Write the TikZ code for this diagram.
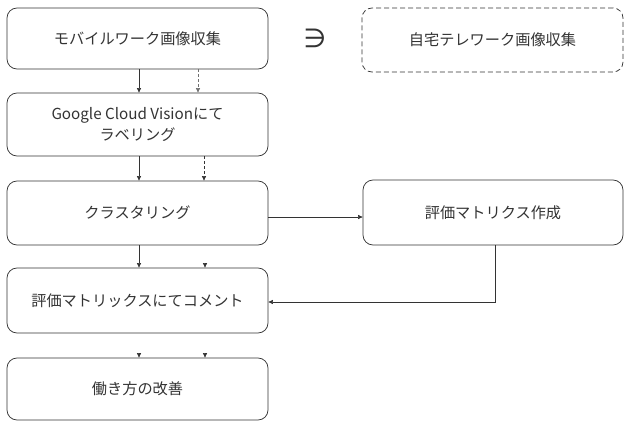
\documentclass[tikz,border=0pt]{standalone}
\usepackage{fontspec}
\setmainfont{Noto Sans CJK JP}
\newfontfamily\symfont{DejaVu Sans}
\usetikzlibrary{arrows.meta,calc}
\definecolor{ink}{HTML}{333333}
\tikzset{
  box/.style={draw=ink, line width=0.75pt, rounded corners=10pt, minimum width=261pt, text=ink, font=\fontsize{15.2}{21}\selectfont, align=center, inner sep=0pt},
  dbox/.style={box, dash pattern=on 5pt off 3pt},
  arr/.style={draw=ink, line width=0.6pt, -{Triangle[length=4.5pt,width=4pt]}},
  darr/.style={arr, dash pattern=on 3pt off 2pt},
}
\begin{document}
\begin{tikzpicture}[x=1pt,y=-1pt]
\useasboundingbox (0,0) rectangle (624,421);
\node[box, minimum height=61pt] (b1) at (137.5,38.5) {モバイルワーク画像収集};
\node[box, minimum height=63pt] (b2) at (137.5,124.5) {Google Cloud Visionにて\\ラベリング};
\node[box, minimum height=64pt] (b3) at (137.5,213) {クラスタリング};
\node[box, minimum height=65pt] (b4) at (137.5,300.5) {評価マトリックスにてコメント};
\node[box, minimum height=62pt] (b5) at (137.5,389) {働き方の改善};
\node[dbox, minimum height=64pt] (r1) at (492.5,40) {自宅テレワーク画像収集};
\node[box, minimum width=260pt, minimum height=65pt] (r2) at (493,212.5) {評価マトリクス作成};
\node[text=ink, font=\symfont\fontsize{26}{26}\selectfont] (sym) at (315,38) {∋};
\coordinate (xa) at (139,0);
\coordinate (xb) at (198,0);
\coordinate (xc) at (204,0);
\coordinate (xd) at (205,0);
\coordinate (xr) at (495,0);
\draw[arr] (xa |- b1.south) -- (xa |- b2.north);
\draw[darr, draw=ink!70] (xb |- b1.south) -- (xb |- b2.north);
\draw[arr] (xa |- b2.south) -- (xa |- b3.north);
\draw[darr] (xc |- b2.south) -- (xc |- b3.north);
\draw[arr] (xa |- b3.south) -- (xa |- b4.north);
\draw[arr] ($(xd |- b4.north)+(0,-4.5)$) -- (xd |- b4.north);
\draw[arr] ($(xa |- b5.north)+(0,-4.5)$) -- (xa |- b5.north);
\draw[arr] ($(xd |- b5.north)+(0,-4.5)$) -- (xd |- b5.north);
\draw[arr] (b3.east |- 0,217) -- (r2.west |- 0,217);
\coordinate (bend) at (495,302);
\draw[arr] (xr |- r2.south) -- (bend) -- (b4.east |- bend);
\end{tikzpicture}
\end{document}
